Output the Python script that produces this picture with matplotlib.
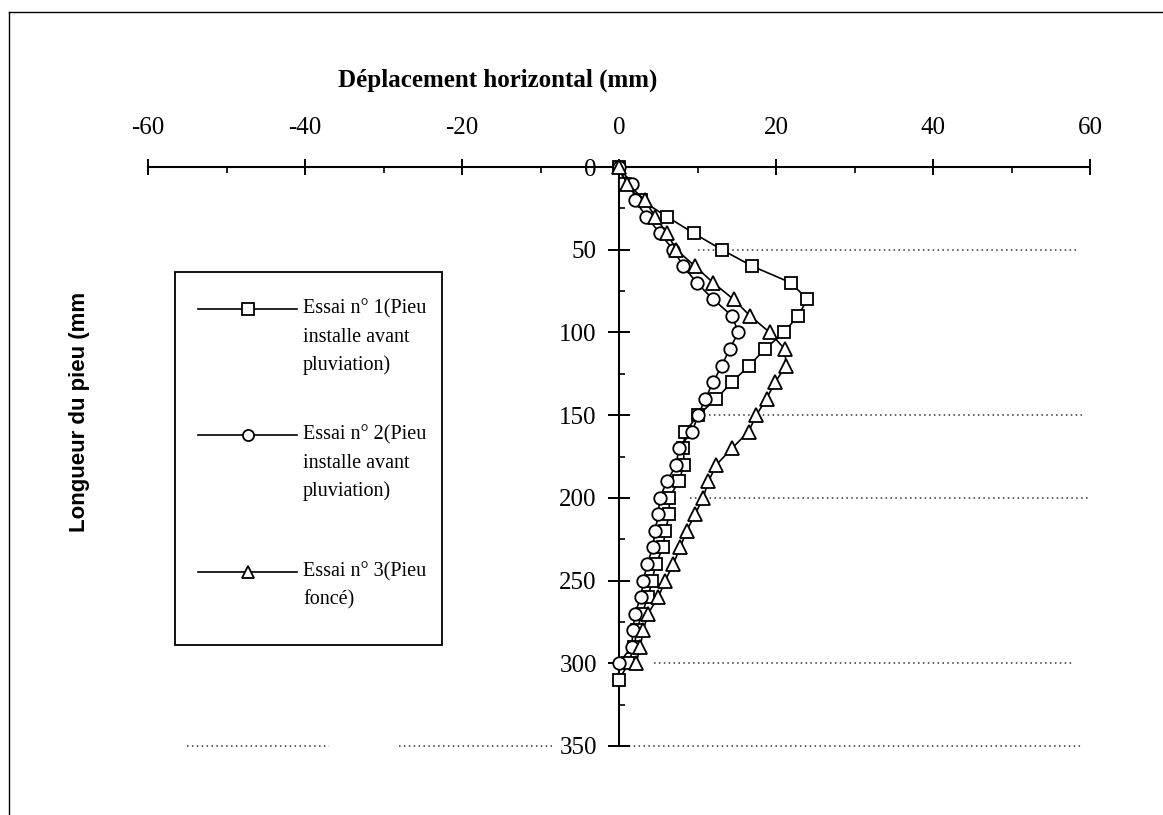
import matplotlib
matplotlib.use("Agg")
import matplotlib.pyplot as plt
from matplotlib.lines import Line2D
from matplotlib.patches import Rectangle

# === DATA ===
depth_1 = list(range(0, 320, 10))   # mm, 0..310
essai_1 = [0, 0.8, 2.8, 6.1, 9.5, 13.1, 17.0, 21.9, 24.0, 22.8, 21.0, 18.6, 16.6, 14.4,
           12.4, 10.1, 8.4, 8.2, 8.3, 7.6, 6.4, 6.4, 5.9, 5.6, 4.7, 4.2, 3.7, 2.9, 2.3,
           1.9, 1.2, 0.0]

depth_2 = list(range(0, 310, 10))   # mm, 0..300
essai_2 = [0, 1.6, 2.0, 3.5, 5.2, 6.9, 8.2, 9.9, 12.0, 14.4, 15.2, 14.1, 13.1, 12.0,
           11.0, 10.1, 9.3, 7.6, 7.3, 6.1, 5.2, 5.0, 4.6, 4.3, 3.6, 3.1, 2.8, 2.0, 1.8,
           1.6, 0.0]

depth_3 = list(range(0, 310, 10))
essai_3 = [0, 1.0, 3.3, 4.6, 6.1, 7.3, 9.7, 12.0, 14.6, 16.7, 19.2, 21.1, 21.3, 19.9,
           18.8, 17.5, 16.5, 14.4, 12.4, 11.4, 10.7, 9.7, 8.6, 7.8, 6.9, 5.9, 5.0, 3.7,
           3.1, 2.7, 2.2]

x_ticks = [-60, -40, -20, 0, 20, 40, 60]
y_ticks = [0, 50, 100, 150, 200, 250, 300, 350]

legend_labels = [
    ["Essai n° 1(Pieu", "installe avant", "pluviation)"],
    ["Essai n° 2(Pieu", "installe avant", "pluviation)"],
    ["Essai n° 3(Pieu", "foncé)"],
]
markers = ["s", "o", "^"]

# faded dotted grid lines of the scan: (depth, x start, x end)
grid_segments = [(50, 10, 58.5), (150, 11.5, 59), (200, 9, 60), (300, 4.5, 58),
                 (350, -55, -37), (350, -28, -8.5), (350, 0, 59)]

# === FIGURE ===
W, H = 1163, 815
fig = plt.figure(figsize=(W / 100, H / 100), dpi=100)
serif = "Liberation Serif"

ax = fig.add_axes([148 / W, 1 - 746 / H, 942 / W, 579 / H])
ax.set_xlim(-60, 60)
ax.set_ylim(350, 0)

for d, x0, x1 in grid_segments:
    ax.plot([x0, x1], [d, d], color="#333333", lw=1.1, ls=(0, (1, 2.2)), zorder=1,
            clip_on=False)

series = [(essai_1, depth_1), (essai_2, depth_2), (essai_3, depth_3)]
for (xs, ys), m in zip(series, markers):
    ms = 9.5 if m == "^" else 9
    ax.plot(xs, ys, color="black", lw=1.2, marker=m, markersize=ms,
            markerfacecolor="white", markeredgecolor="black", markeredgewidth=1.3,
            zorder=3, clip_on=False)

# axes: x axis along the top (depth 0), y axis through x = 0
for s in ["right", "bottom"]:
    ax.spines[s].set_visible(False)
ax.spines["top"].set_linewidth(1.5)
ax.spines["left"].set_linewidth(1.5)
ax.spines["left"].set_position(("data", 0))
ax.xaxis.tick_top()
ax.set_xticks(x_ticks)
ax.set_xticks([-50, -30, -10, 10, 30, 50], minor=True)
ax.set_yticks(y_ticks)
ax.set_yticks([25, 75, 125, 175, 225, 275, 325], minor=True)
ax.tick_params(axis="x", which="major", direction="inout", length=12, width=1.4, pad=14,
               labelsize=18)
ax.tick_params(axis="x", which="minor", direction="in", length=4.5, width=1.2)
ax.tick_params(axis="y", which="major", direction="inout", length=16, width=1.4, pad=8,
               labelsize=18)
ax.tick_params(axis="y", which="minor", direction="in", length=4.5, width=1.2)
for lab in ax.get_xticklabels() + ax.get_yticklabels():
    lab.set_fontfamily(serif)
ax.set_xticklabels([str(v) for v in x_ticks])
ax.patch.set_visible(False)

# titles
fig.text(498 / W, 1 - 80 / H, "Déplacement horizontal (mm)", ha="center", va="center",
         fontsize=18, fontweight="bold", family=serif)
fig.text(80 / W, 1 - 412 / H, "Longueur du pieu (mm", ha="center", va="center",
         rotation=90, fontsize=16, fontweight="bold", family="Liberation Sans")

# frame of the scanned page (top and left edges)
fig.add_artist(Line2D([9 / W, 9 / W], [0, 1 - 12 / H], transform=fig.transFigure,
                      color="black", lw=1.0))
fig.add_artist(Line2D([9 / W, 1], [1 - 12 / H, 1 - 12 / H], transform=fig.transFigure,
                      color="black", lw=1.0))

# legend box drawn in pixel coordinates of an overlay
lg = fig.add_axes([0, 0, 1, 1])
lg.set_xlim(0, W)
lg.set_ylim(H, 0)
lg.axis("off")
lg.add_patch(Rectangle((175, 272), 267, 373, facecolor="white", edgecolor="black", lw=1.3))
entry_y = [309, 435, 572]
for y0, m, lines in zip(entry_y, markers, legend_labels):
    lg.plot([198, 297], [y0, y0], color="black", lw=1.2)
    lg.plot([248], [y0], marker=m, markersize=8, markerfacecolor="white",
            markeredgecolor="black", markeredgewidth=1.3)
    for k, txt in enumerate(lines):
        lg.text(303, y0 + 28 * k, txt, ha="left", va="center", fontsize=14.5, family=serif)

fig.savefig("out.png", dpi=100)
